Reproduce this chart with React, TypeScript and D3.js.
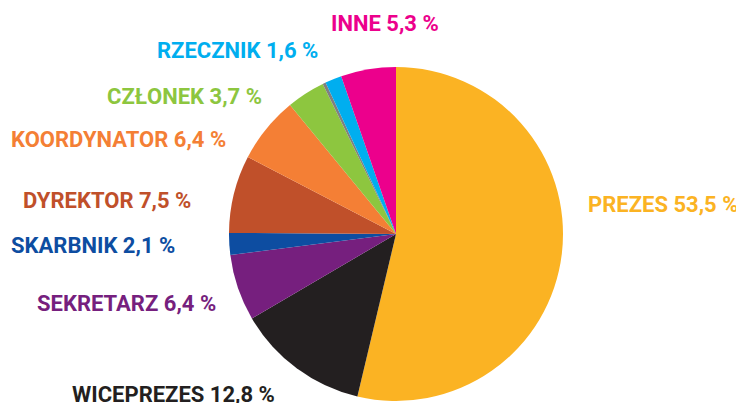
import * as d3 from "d3";
import React, { RefObject, useEffect, useRef } from "react";

const categories = ["PREZES", "WICEPREZES", "SEKRETARZ", "SKARBNIK", "DYREKTOR", "KOORDYNATOR", "CZŁONEK", "", "RZECZNIK", "INNE"];
const values = [53.5, 12.8, 6.4, 2.1, 7.5, 6.4, 3.7, 0.3, 1.6, 5.3];
const valueLabels = ["53,5", "12,8", "6,4", "2,1", "7,5", "6,4", "3,7", "", "1,6", "5,3"];
const colors = ["#FBB323", "#231F20", "#761F7E", "#0D4DA1", "#C0502A", "#F47F35", "#8DC63F", "#808080", "#00AEEF", "#EC008C"];

// hand-placed label anchors (left x, baseline y)
const labelX = [588, 72, 37, 11, 23, 11, 107, 0, 157, 331];
const labelY = [212, 402, 311, 253, 208, 147, 104, 0, 58, 31];

const App = () => {
  const d3Ref: RefObject<HTMLDivElement> = useRef(null);
  const width = 744;
  const height = 411;

  useEffect(() => {
    const root = d3.select(d3Ref.current);
    root.selectAll("*").remove();
    const svg = root
      .append("svg")
      .attr("width", width)
      .attr("height", height)
      .style("display", "block");

    const cx = 396;
    const cy = 234;
    const radius = 167;

    const pie = d3
      .pie<number>()
      .sort(null)
      .value((d) => d);

    const arc = d3.arc<d3.PieArcDatum<number>>().innerRadius(0).outerRadius(radius);

    const g = svg.append("g").attr("transform", `translate(${cx},${cy})`);
    g.selectAll("path")
      .data(pie(values))
      .enter()
      .append("path")
      .attr("d", (d) => arc(d) as string)
      .attr("fill", (d, i) => colors[i]);

    svg
      .append("g")
      .selectAll("text")
      .data(categories.map((c, i) => i).filter((i) => categories[i] !== ""))
      .enter()
      .append("text")
      .attr("x", (i) => labelX[i])
      .attr("y", (i) => labelY[i])
      .attr("fill", (i) => colors[i])
      .style("font-family", "Roboto")
      .style("font-weight", "bold")
      .style("font-size", "22px")
      .text((i) => `${categories[i]} ${valueLabels[i]} %`);
  }, [d3Ref]);

  return <div ref={d3Ref} style={{ margin: -8 }} />;
};

export default App;
